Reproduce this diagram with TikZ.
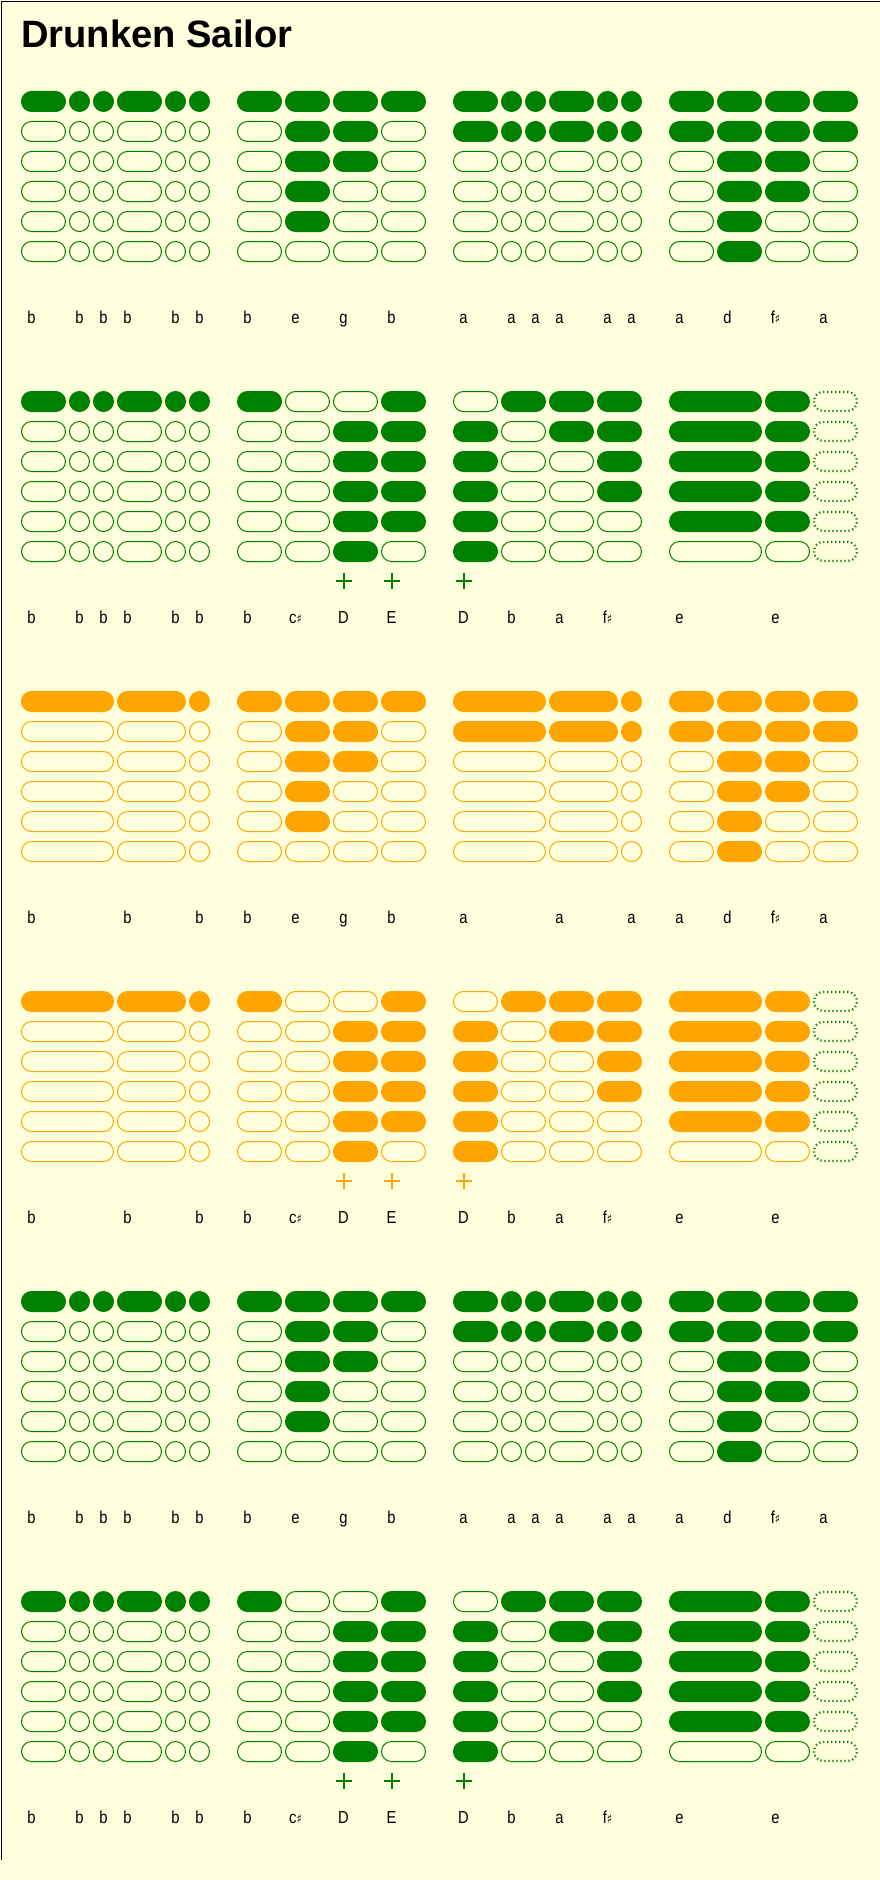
\documentclass[tikz,border=0pt]{standalone}
\usepackage{fontspec}
\setmainfont{Liberation Sans}
\newfontfamily\simbolos{DejaVu Sans}
\usepackage{xcolor}
\usepackage{tikz}
\definecolor{cverde}{HTML}{008000}
\definecolor{cnaranja}{HTML}{FFA500}
\definecolor{cfondo}{HTML}{FFFFDD}
\tikzset{
  agujero/.style={line width=0.75pt, rounded corners=7.5pt},
  silencio/.style={draw=cverde, line width=1.7pt, dash pattern=on 0.9pt off 2.1pt, rounded corners=7pt},
  nombre/.style={font=\fontsize{13}{13}\selectfont, anchor=base, inner sep=0pt},
  soplo/.style={line width=1.5pt},
}
\newcommand{\sost}{{\simbolos\fontsize{9.5}{9.5}\selectfont ♯}}
% inicio/duracion/primer/ultimo agujero tapado/nombre/marca
\def\cBa{0/2/1/1/b/0, 2/1/1/1/b/0, 3/1/1/1/b/0, 4/2/1/1/b/0, 6/1/1/1/b/0, 7/1/1/1/b/0}
\def\cBegb{0/2/1/1/b/0, 2/2/1/5/e/0, 4/2/1/3/g/0, 6/2/1/1/b/0}
\def\cAa{0/2/1/2/a/0, 2/1/1/2/a/0, 3/1/1/2/a/0, 4/2/1/2/a/0, 6/1/1/2/a/0, 7/1/1/2/a/0}
\def\cAdfa{0/2/1/2/a/0, 2/2/1/6/d/0, 4/2/1/4/f\sost/0, 6/2/1/2/a/0}
\def\cBcDE{0/2/1/1/b/0, 2/2/1/0/c\sost/0, 4/2/2/6/D/1, 6/2/1/5/E/1}
\def\cDbaf{0/2/2/6/D/1, 2/2/1/1/b/0, 4/2/1/2/a/0, 6/2/1/4/f\sost/0}
\def\cEe{0/4/1/5/e/0, 4/2/1/5/e/0, 6/2/9/9/-/2}
\def\cBlargo{0/4/1/1/b/0, 4/3/1/1/b/0, 7/1/1/1/b/0}
\def\cAlargo{0/4/1/2/a/0, 4/3/1/2/a/0, 7/1/1/2/a/0}
\newcommand{\compas}[4]{%
  \foreach \ini/\dur/\pa/\pb/\txt/\mas in #4 {
    \pgfmathsetmacro\xa{21+216*#2+24*\ini}
    \pgfmathsetmacro\xb{\xa+24*\dur-3}
    \pgfmathsetmacro\ya{91+300*#1}
    \foreach \fila in {1,...,6} {
      \pgfmathsetmacro\yf{\ya+30*(\fila-1)}
      \ifnum\mas=2
        \draw[silencio] (\xa+1,\yf+1) rectangle (\xb-1,\yf+20);
      \else\ifnum\fila<\pa
        \draw[agujero, draw=#3] (\xa+0.5,\yf+0.5) rectangle (\xb-0.5,\yf+20.5);
      \else\ifnum\fila>\pb
        \draw[agujero, draw=#3] (\xa+0.5,\yf+0.5) rectangle (\xb-0.5,\yf+20.5);
      \else
        \filldraw[agujero, draw=#3, fill=#3] (\xa+0.5,\yf+0.5) rectangle (\xb-0.5,\yf+20.5);
      \fi\fi\fi
    }
    \ifnum\mas=1
      \draw[soplo, #3] (\xa+2.5,\ya+190) -- (\xa+18.5,\ya+190) (\xa+10.5,\ya+182) -- (\xa+10.5,\ya+198);
    \fi
    \ifnum\mas<2
      \node[nombre] (nota-#1-#2-\ini) at (\xa+10.5,\ya+232) {\scalebox{0.85}[1]{\txt}};
    \fi
  }%
}
\newcommand{\sistema}[6]{%
  \compas{#1}{0}{#2}{#3}\compas{#1}{1}{#2}{#4}\compas{#1}{2}{#2}{#5}\compas{#1}{3}{#2}{#6}}

\begin{document}
\begin{tikzpicture}[x=0.75pt, y=-0.75pt]
  \useasboundingbox (0,0) rectangle (880,1880);
  \fill[cfondo] (0,0) rectangle (880,1880);
  \draw[line width=0.9pt] (1.5,1860) -- (1.5,1.5) -- (880,1.5);
  \node[font=\bfseries\fontsize{28.6}{28.6}\selectfont, anchor=base west, inner sep=0pt] (titulo) at (21,48) {Drunken Sailor};

  \sistema{0}{cverde}{\cBa}{\cBegb}{\cAa}{\cAdfa}
  \sistema{1}{cverde}{\cBa}{\cBcDE}{\cDbaf}{\cEe}
  \sistema{2}{cnaranja}{\cBlargo}{\cBegb}{\cAlargo}{\cAdfa}
  \sistema{3}{cnaranja}{\cBlargo}{\cBcDE}{\cDbaf}{\cEe}
  \sistema{4}{cverde}{\cBa}{\cBegb}{\cAa}{\cAdfa}
  \sistema{5}{cverde}{\cBa}{\cBcDE}{\cDbaf}{\cEe}
\end{tikzpicture}
\end{document}
